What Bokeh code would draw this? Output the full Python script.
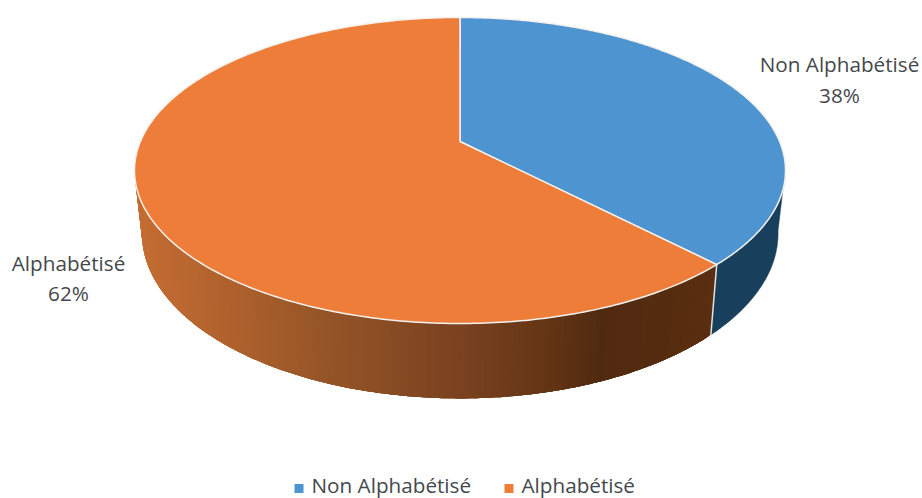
import math
from bokeh.plotting import figure
from bokeh.embed import file_html
from bokeh.resources import INLINE
from bokeh.core.properties import value

categories = ["Non Alphabétisé", "Alphabétisé"]
shares = [37.8, 62.2]
top_colors = ["#4E94D0", "#ED7D38"]
side_blue = "#183F5B"
gradient_x = [137, 250, 330, 460, 560, 600, 712]
gradient_rgb = [(197,109,51), (170,95,44), (148,84,39), (122,66,32), (95,51,19), (80,42,16), (90,46,16)]
TEXT = "#44484C"
FONT = "Open Sans"
FONT_SIZE = "20.7px"

W, H = 922, 498
p = figure(width=W, height=H, x_range=(0, W), y_range=(H, 0),
           output_backend="svg", toolbar_location=None, min_border=0,
           background_fill_color="white", border_fill_color="white",
           outline_line_color=None)
p.axis.visible = False
p.grid.visible = False

CX = 459.5; PERSP = 0.1895; A = -120.8
B_TOP = 141.0; K_TOP = 319.6
B_BOT = 201.7; K_BOT = 312.3

def rim(phi, b, k):
    u, v = math.sin(phi), math.cos(phi)
    w = 1 + PERSP * v
    return CX + k * u / w, (A * v + b) / w

def grad(x):
    if x <= gradient_x[0]:
        return gradient_rgb[0]
    for i in range(len(gradient_x) - 1):
        if x <= gradient_x[i + 1]:
            t = (x - gradient_x[i]) / (gradient_x[i + 1] - gradient_x[i])
            return tuple(round(a + (b - a) * t) for a, b in zip(gradient_rgb[i], gradient_rgb[i + 1]))
    return gradient_rgb[-1]

split = 2 * math.pi * shares[0] / sum(shares)
side_start = math.radians(100)
side_end = math.radians(261)

n = 40
phis = [side_start + (split - side_start) * i / n for i in range(n + 1)]
xs = [rim(f, B_TOP, K_TOP)[0] for f in phis] + [rim(f, B_BOT, K_BOT)[0] for f in reversed(phis)]
ys = [rim(f, B_TOP, K_TOP)[1] for f in phis] + [rim(f, B_BOT, K_BOT)[1] for f in reversed(phis)]
p.patch(xs, ys, fill_color=side_blue, line_color=side_blue, line_width=0.5)

# orange side: strips overlap the next ones, so no seams show between them
m = 220
overlap = 4
step = (side_end - split) / m
qx, qy, qc = [], [], []
for i in range(m):
    last = min(i + overlap, m)
    fs = [split + step * j for j in range(i, last + 1)]
    top = [rim(f, B_TOP, K_TOP) for f in fs]
    bot = [rim(f, B_BOT, K_BOT) for f in reversed(fs)]
    qx.append([q[0] for q in top + bot])
    qy.append([q[1] for q in top + bot])
    mid = split + step * (i + 0.5)
    c = grad((rim(mid, B_TOP, K_TOP)[0] + rim(mid, B_BOT, K_BOT)[0]) / 2)
    qc.append("#%02X%02X%02X" % c)
p.patches(qx, qy, fill_color=qc, line_color=None)

s0, s1 = rim(split, B_TOP, K_TOP), rim(split, B_BOT, K_BOT)
p.line([s0[0], s1[0]], [s0[1], s1[1]], line_color="#E4E4E4", line_width=1.5)

apex_x, apex_y = CX, B_TOP
start = 0.0
for share, col in zip(shares, top_colors):
    span = 2 * math.pi * share / sum(shares)
    k = 300
    fs = [start + span * i / k for i in range(k + 1)]
    px = [apex_x] + [rim(f, B_TOP, K_TOP)[0] for f in fs]
    py = [apex_y] + [rim(f, B_TOP, K_TOP)[1] for f in fs]
    p.patch(px, py, fill_color=col, line_color="#F4F1EE", line_width=1.5, line_join="round")
    start += span

label_pos = [(839, 63.5, 94), (68, 262, 292)]
for cat, share, (lx, y1, y2) in zip(categories, shares, label_pos):
    p.text([lx], [y1], text=[cat], text_align="center", text_baseline="middle",
           text_color=TEXT, text_font=value(FONT), text_font_size=FONT_SIZE)
    p.text([lx], [y2], text=[f"{round(share)}%"], text_align="center", text_baseline="middle",
           text_color=TEXT, text_font=value(FONT), text_font_size=FONT_SIZE)

legend_y = 484
legend_pos = [(298.5, 311), (508.5, 521)]
for cat, col, (sx, tx) in zip(categories, top_colors, legend_pos):
    p.rect([sx], [488], width=9, height=9, fill_color=col, line_color=None)
    p.text([tx], [legend_y], text=[cat], text_align="left", text_baseline="middle",
           text_color=TEXT, text_font=value(FONT), text_font_size=FONT_SIZE)

open("out.html", "w").write(file_html(p, INLINE))
